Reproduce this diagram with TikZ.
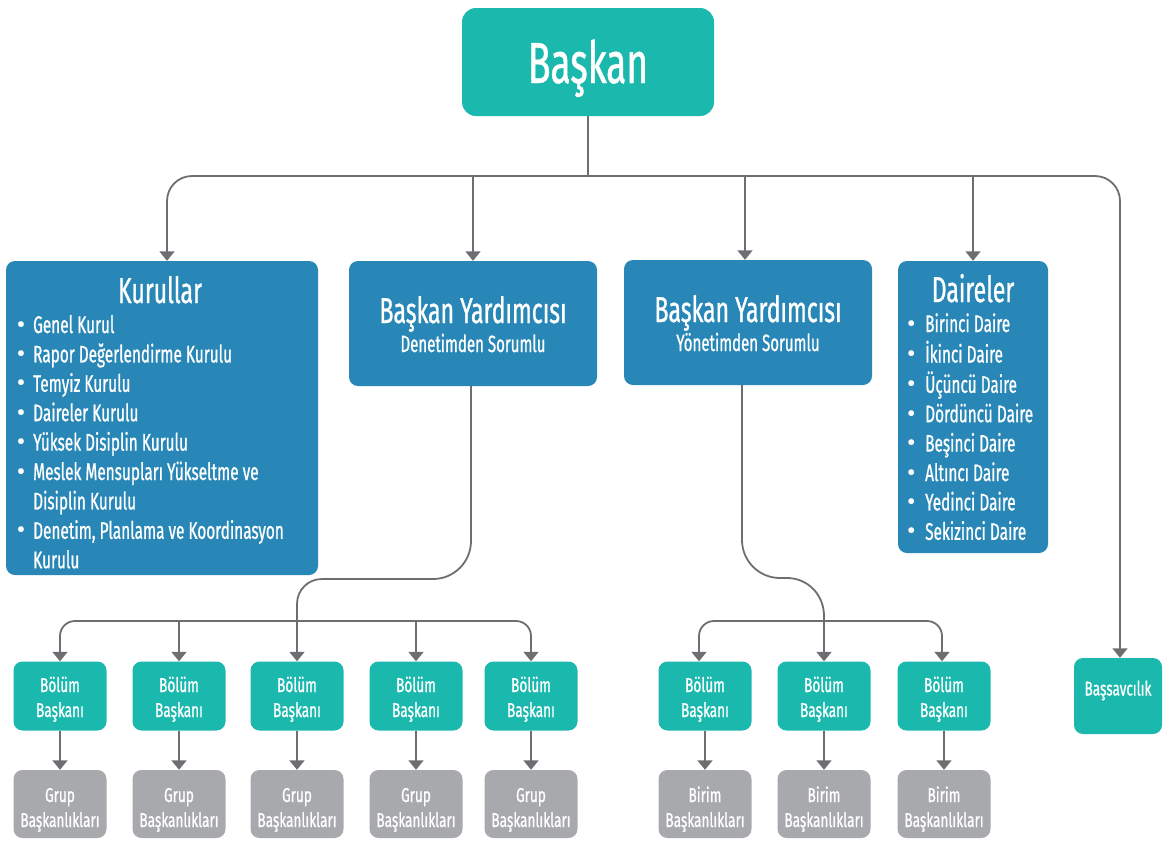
\documentclass[tikz,border=0pt]{standalone}
\usepackage{fontspec}
\setmainfont{Fira Sans}[FakeStretch=0.64, FakeBold=0.8]
\newfontfamily\smallfont{Fira Sans}[FakeStretch=0.68, FakeBold=0.8]
\newfontfamily\bulfont{Fira Sans}
\usetikzlibrary{arrows.meta}
\definecolor{teal1}{HTML}{1BB8AE}
\definecolor{blue1}{HTML}{2887B6}
\definecolor{gray1}{HTML}{A7A9AC}
\definecolor{line1}{HTML}{6D6E71}
\newcommand{\fs}[2]{\fontsize{#1}{#2}\selectfont}
\newcommand{\bul}{\makebox[12pt]{\bulfont\fs{26}{29.4}•}}
\tikzset{
  box/.style={rounded corners=9pt, inner sep=0pt, draw=none},
  tealbox/.style={box, fill=teal1},
  bluebox/.style={box, fill=blue1},
  graybox/.style={box, fill=gray1},
  txt/.style={text=white, inner sep=0pt},
  smalltxt/.style={txt, font=\smallfont\fs{20}{25}},
  conn/.style={draw=line1, line width=1.8pt},
  tip/.style={-{Triangle[width=15pt,length=9.5pt]}},
  arr/.style={conn, tip},
}
\begin{document}
\begin{tikzpicture}[x=1pt,y=-1pt]
\useasboundingbox (0,0) rectangle (1164,841);

% top
\node[tealbox, rounded corners=14pt, minimum width=252pt, minimum height=108pt] (baskan) at (588,62) {};
\node[txt, anchor=base, font=\fs{58}{60}] (baskant) at (588,83) {Başkan};

% second row
\node[bluebox, minimum width=312pt, minimum height=314pt] (kurullar) at (162,418) {};
\node[txt, anchor=base, font=\fs{36}{40}] (kurullart) at (160,303) {Kurullar};
\node[txt, anchor=base west, font=\fs{24}{29.4}] (kurullarl) at (15,333) {\begin{tabular}[t]{@{}l@{}}
\bul\hspace{6pt}Genel Kurul\\
\bul\hspace{6pt}Rapor Değerlendirme Kurulu\\
\bul\hspace{6pt}Temyiz Kurulu\\
\bul\hspace{6pt}Daireler Kurulu\\
\bul\hspace{6pt}Yüksek Disiplin Kurulu\\
\bul\hspace{6pt}Meslek Mensupları Yükseltme ve\\
\hspace{18pt}Disiplin Kurulu\\
\bul\hspace{6pt}Denetim, Planlama ve Koordinasyon\\
\hspace{18pt}Kurulu
\end{tabular}};

\node[bluebox, minimum width=248pt, minimum height=125pt] (byd) at (473,323.5) {};
\node[txt, anchor=base, font=\fs{36}{40}] (bydt) at (473,323) {Başkan Yardımcısı};
\node[txt, anchor=base, font=\fs{23.5}{26}] (byds) at (473,352) {Denetimden Sorumlu};

\node[bluebox, minimum width=248pt, minimum height=125pt] (byy) at (748,322.5) {};
\node[txt, anchor=base, font=\fs{36}{40}] (byyt) at (748,322) {Başkan Yardımcısı};
\node[txt, anchor=base, font=\fs{23.5}{26}] (byys) at (748,351) {Yönetimden Sorumlu};

\node[bluebox, minimum width=150pt, minimum height=292pt] (daireler) at (973,407) {};
\node[txt, anchor=base, font=\fs{36}{40}] (dairelert) at (973,302) {Daireler};
\node[txt, anchor=base west, font=\fs{24}{29.4}] (dairelerl) at (905,332) {\begin{tabular}[t]{@{}l@{}}
\bul\hspace{8pt}Birinci Daire\\
\bul\hspace{8pt}İkinci Daire\\
\bul\hspace{8pt}Üçüncü Daire\\
\bul\hspace{8pt}Dördüncü Daire\\
\bul\hspace{8pt}Beşinci Daire\\
\bul\hspace{8pt}Altıncı Daire\\
\bul\hspace{8pt}Yedinci Daire\\
\bul\hspace{8pt}Sekizinci Daire
\end{tabular}};

\node[tealbox, minimum width=88pt, minimum height=76pt] (bassav) at (1118,696) {};
\node[smalltxt, anchor=base] (bassavt) at (1118,695.5) {Başsavcılık};

% third and fourth rows
\foreach \i/\x/\w in {1/60/Grup,2/179/Grup,3/297/Grup,4/416/Grup,5/531/Grup,6/705/Birim,7/824/Birim,8/944/Birim}{
  \node[tealbox, minimum width=93pt, minimum height=69pt] (b\i) at (\x,696) {};
  \node[smalltxt, anchor=base] (bt\i) at (\x,692) {\begin{tabular}[t]{@{}c@{}}Bölüm\\Başkanı\end{tabular}};
  \node[graybox, minimum width=93pt, minimum height=68pt] (g\i) at (\x,804) {};
  \node[smalltxt, anchor=base] (gt\i) at (\x,802) {\begin{tabular}[t]{@{}c@{}}\w\\Başkanlıkları\end{tabular}};
  \draw[arr] (b\i.south) -- (g\i.north);
}

% top connectors
\coordinate (hub) at (588,176);
\draw[conn] (baskan.south) -- (hub);
\draw[arr, rounded corners=25pt] (hub) -| ([xshift=5pt]kurullar.north);
\draw[arr, rounded corners=25pt] (hub) -| ([xshift=2pt]bassav.north);
\draw[arr] (byd.north |- hub) -- (byd.north);
\draw[arr] ([xshift=-3pt]byy.north |- hub) -- ([xshift=-3pt]byy.north);
\draw[arr] (daireler.north |- hub) -- (daireler.north);

% Denetim branch
\draw[arr] ([xshift=-2pt]byd.south) -- (471,541) .. controls (471,562) and (454,579) .. (433,579) -- (322,579) .. controls (308,579) and (297,590) .. (297,604) -- (b3.north);
\draw[conn, {Triangle[width=15pt,length=9.5pt]}-{Triangle[width=15pt,length=9.5pt]}, rounded corners=15pt] (b1.north) -- (b1.north |- 0,621) -- (b5.north |- 0,621) -- (b5.north);
\draw[arr] (b2.north |- 0,621) -- (b2.north);
\draw[arr] (b4.north |- 0,621) -- (b4.north);

% Yonetim branch
\draw[arr] ([xshift=-6pt]byy.south) -- (742,540) .. controls (742,561) and (759,578) .. (780,578) -- (787,578) .. controls (808,578) and (824,595) .. (824,616) -- (b7.north);
\draw[conn, {Triangle[width=15pt,length=9.5pt]}-{Triangle[width=15pt,length=9.5pt]}, rounded corners=15pt] ([xshift=-6pt]b6.north) -- ([xshift=-6pt]b6.north |- 0,621) -- ([xshift=-2pt]b8.north |- 0,621) -- ([xshift=-2pt]b8.north);
\end{tikzpicture}
\end{document}
